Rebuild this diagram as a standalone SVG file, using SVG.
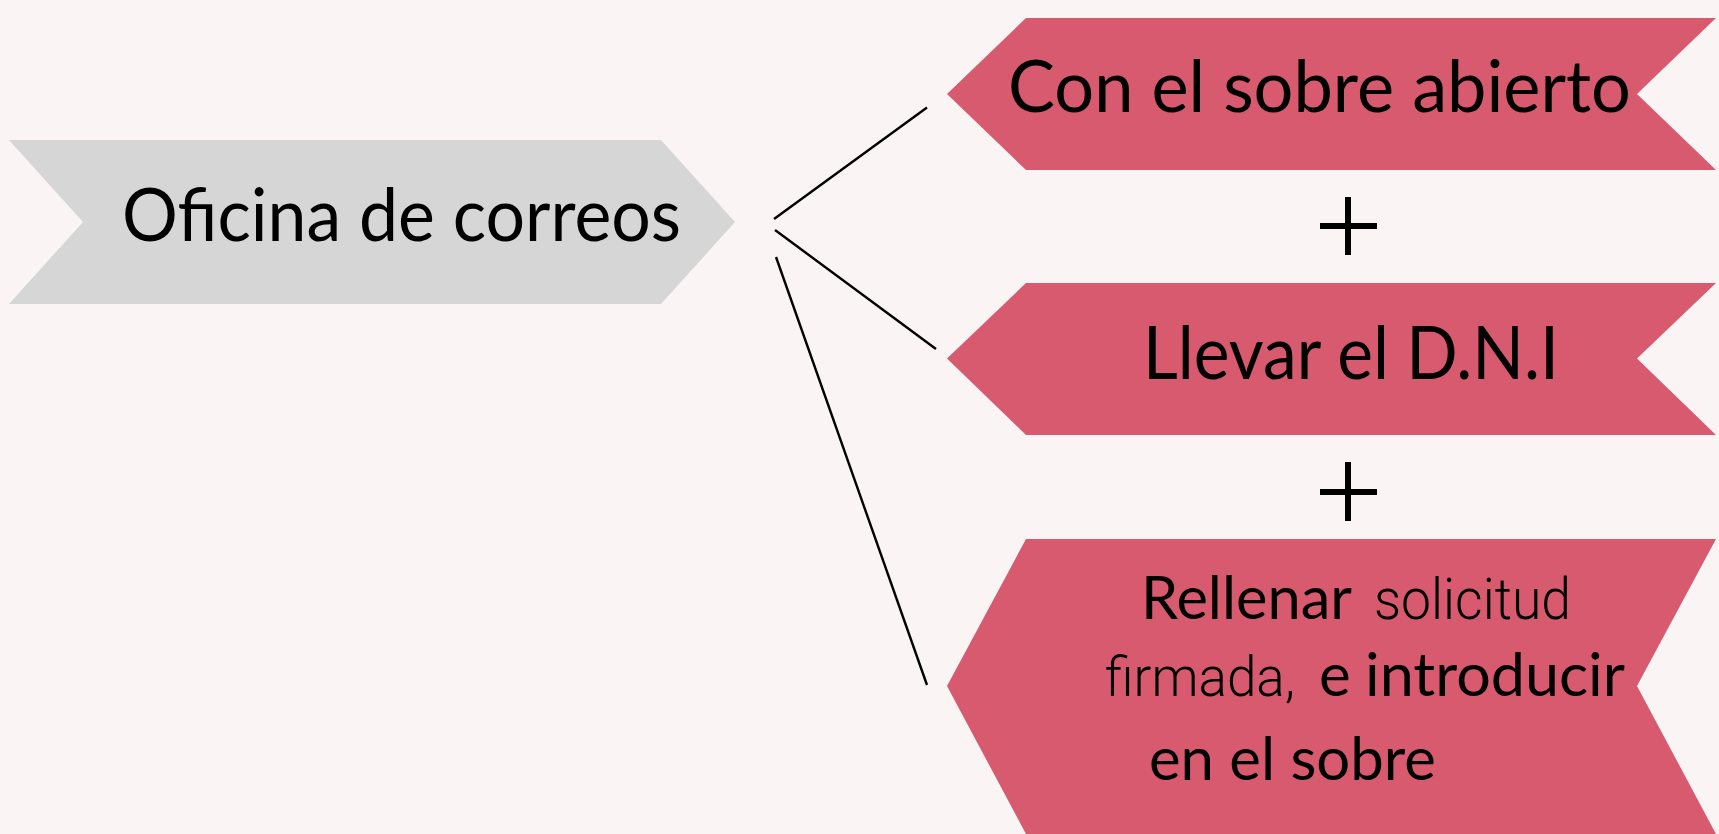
<svg xmlns="http://www.w3.org/2000/svg" width="1719" height="834" viewBox="0 0 1719 834">
  <style>
    .bg { fill: #FAF4F4; }
    .grey { fill: #D6D6D6; }
    .pink { fill: #D85A6E; }
    .t { font-family: Lato, "Open Sans", "Liberation Sans", sans-serif; fill: #000; }
    .lt { font-family: Roboto, "Open Sans", sans-serif; font-weight: 300; fill: #000; }
    .conn line { stroke: #000; stroke-width: 2.4; }
    .plus path { stroke: #000; stroke-width: 6; fill: none; }
  </style>
  <rect class="bg" x="0" y="0" width="1719" height="834"/>

  <g id="node-oficina">
    <polygon class="grey" points="9,140 661,140 735,222 661,304 9,304 83,222"/>
    <text class="t" x="122" y="241" font-size="73" textLength="559" lengthAdjust="spacingAndGlyphs">Oficina de correos</text>
  </g>

  <g id="node-sobre-abierto">
    <polygon class="pink" points="1026,18 1716,18 1637,94 1716,170 1026,170 947,94"/>
    <text class="t" x="1008" y="112" font-size="72" textLength="623" lengthAdjust="spacingAndGlyphs">Con el sobre abierto</text>
  </g>

  <g id="node-dni">
    <polygon class="pink" points="1026,283 1716,283 1637,358.5 1716,435 1026,435 947,358.5"/>
    <text class="t" x="1143" y="379" font-size="73" textLength="416" lengthAdjust="spacingAndGlyphs">Llevar el D.N.I</text>
  </g>

  <g id="node-solicitud">
    <polygon class="pink" points="1026,539 1716,539 1637,686 1716,834 1026,834 947,686"/>
    <text class="t" x="1141" y="619" font-size="60" textLength="211" lengthAdjust="spacingAndGlyphs">Rellenar</text>
    <text class="lt" x="1374" y="619" font-size="58" textLength="197" lengthAdjust="spacingAndGlyphs">solicitud</text>
    <text class="lt" x="1105" y="696" font-size="56" textLength="190" lengthAdjust="spacingAndGlyphs">firmada,</text>
    <text class="t" x="1319" y="696" font-size="60">e</text>
    <text class="t" x="1365" y="696" font-size="60" textLength="260" lengthAdjust="spacingAndGlyphs">introducir</text>
    <text class="t" x="1149" y="780" font-size="60" textLength="287" lengthAdjust="spacingAndGlyphs">en el sobre</text>
  </g>

  <g id="plus-signs" class="plus">
    <path d="M1320,226 H1377 M1348,197 V255"/>
    <path d="M1320,492 H1377 M1348,462 V521"/>
  </g>

  <g id="connectors" class="conn">
    <line x1="774" y1="219" x2="927" y2="107.5"/>
    <line x1="775" y1="230" x2="936" y2="349"/>
    <line x1="776" y1="257" x2="927" y2="685"/>
  </g>
</svg>
